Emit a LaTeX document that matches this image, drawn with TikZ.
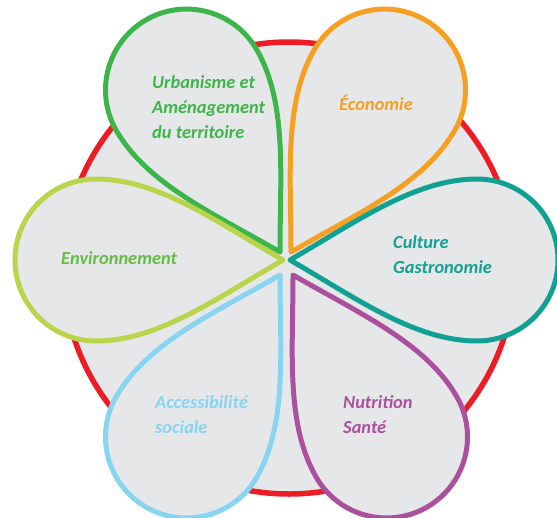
\documentclass[tikz,border=0pt]{standalone}
\usepackage{fontspec}
\setmainfont{Carlito}
\definecolor{petalfill}{HTML}{E6E7E8}
\definecolor{ringred}{HTML}{ED1C24}
\definecolor{cgreen}{HTML}{3DB54A}
\definecolor{corange}{HTML}{F6A023}
\definecolor{clime}{HTML}{B9D54B}
\definecolor{cteal}{HTML}{10A193}
\definecolor{cblue}{HTML}{88D4F1}
\definecolor{cpurple}{HTML}{AB509D}
\definecolor{cenvtext}{HTML}{66BC46}
\tikzset{
  petalline/.style={fill=petalfill, line width=5pt, line join=round},
  label/.style={font=\fontsize{18.4}{25}\selectfont\bfseries\itshape, inner sep=0pt, align=left}
}
\newcommand\petal[4]{%
  \draw[petalline, draw=#4, shift={(#1,#2)}, rotate=#3]
    (0,0) .. controls (66,38) and (125,81) .. (187,81)
    arc[start angle=90, end angle=-90, radius=81]
    .. controls (125,-81) and (66,-38) .. cycle;}
\begin{document}
\begin{tikzpicture}[x=1pt,y=1pt]
\useasboundingbox (0,0) rectangle (557,-517);
\draw[fill=petalfill, draw=ringred, line width=5.5pt] (289,-268) circle[radius=226];
\petal{280}{-252}{120}{cgreen}
\petal{291}{-252}{60}{corange}
\petal{283}{-260}{180}{clime}
\petal{290}{-260}{0}{cteal}
\petal{280}{-275}{240}{cblue}
\petal{293}{-275}{300}{cpurple}
\node[label, text=cgreen, anchor=north west] (urb) at (152,-75) {Urbanisme et\\Aménagement\\du territoire};
\node[label, text=corange] (eco) at (376,-103) {Économie};
\node[label, text=cenvtext, anchor=west] (env) at (61,-258) {Environnement};
\node[label, text=cteal, anchor=north west] (cul) at (393,-235) {Culture\\Gastronomie};
\node[label, text=cblue, anchor=north west] (acc) at (155,-395) {Accessibilité\\sociale};
\node[label, text=cpurple, anchor=north west] (nut) at (343,-395) {Nutrition\\Santé};
\end{tikzpicture}
\end{document}
